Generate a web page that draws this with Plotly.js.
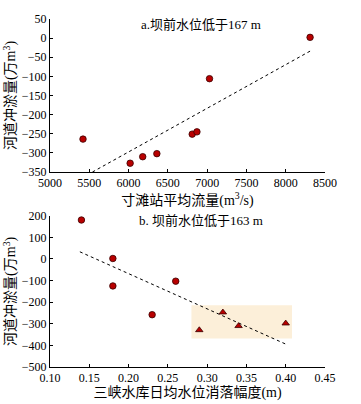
<!DOCTYPE html>
<html><head><meta charset="utf-8">
<script src="https://cdn.plot.ly/plotly-3.0.1.min.js"></script>
<style>html,body{margin:0;padding:0;background:#fff}#c{width:361px;height:404px}</style>
</head><body><div id="c"></div>
<script>
// Panel a
var flowA = [5420, 6020, 6180, 6360, 6810, 6870, 7030, 8310];
var scourA = [-264, -327, -310, -302, -251, -245, -106, 2];
var trendAx = [5540, 8310];
var trendAy = [-350, -34];
// Panel b
var dropCircle = [0.14, 0.18, 0.18, 0.26, 0.23];
var scourCircle = [180, 2, -125, -103, -258];
var dropTri = [0.29, 0.32, 0.34, 0.40];
var scourTri = [-329, -247, -310, -298];
var trendBx = [0.138, 0.40];
var trendBy = [33, -394];
var boxBx = [0.28, 0.408];
var boxBy = [-368, -214];

var FONT = "'Liberation Serif', 'Noto Sans CJK SC', serif";
var red = '#B80000';
var mk = {color: red, size: 6.5, line: {color: '#3a0000', width: 0.8}};
var mkT = {color: red, size: 6.5, symbol: 'triangle-up', line: {color: '#3a0000', width: 0.8}};

var data = [
  {x: trendAx, y: trendAy, mode: 'lines', line: {color: '#000', width: 1, dash: 'dot'}, xaxis: 'x', yaxis: 'y', hoverinfo: 'skip'},
  {x: flowA, y: scourA, mode: 'markers', marker: mk, xaxis: 'x', yaxis: 'y'},
  {x: trendBx, y: trendBy, mode: 'lines', line: {color: '#000', width: 1, dash: 'dot'}, xaxis: 'x2', yaxis: 'y2', hoverinfo: 'skip'},
  {x: dropCircle, y: scourCircle, mode: 'markers', marker: mk, xaxis: 'x2', yaxis: 'y2'},
  {x: dropTri, y: scourTri, mode: 'markers', marker: mkT, xaxis: 'x2', yaxis: 'y2'}
];

function ax(o) {
  return Object.assign({
    showline: true, linecolor: '#000', linewidth: 1, mirror: false,
    ticks: 'inside', ticklen: 3, tickcolor: '#000', showgrid: false, zeroline: false,
    tickfont: {family: FONT, size: 12, color: '#000'}
  }, o);
}

var layout = {
  width: 361, height: 404,
  margin: {l: 50, r: 36, t: 19, b: 37},
  paper_bgcolor: '#fff', plot_bgcolor: 'rgba(0,0,0,0)',
  showlegend: false,
  font: {family: FONT, color: '#000'},
  xaxis: ax({domain: [0, 1], range: [5000, 8500], dtick: 500, anchor: 'y',
    title: {text: '寸滩站平均流量(m<sup>3</sup>/s)', font: {family: FONT, size: 14}, standoff: 0}}),
  yaxis: ax({domain: [0.5603, 1], range: [-350, 50], dtick: 50, anchor: 'x',
    title: {text: '河道冲淤量(万m<sup>3</sup>)', font: {family: FONT, size: 14}, standoff: 2}}),
  xaxis2: ax({domain: [0, 1], range: [0.10, 0.45], dtick: 0.05, tickformat: '.2f', anchor: 'y2',
    title: {text: '三峡水库日均水位消落幅度(m)', font: {family: FONT, size: 14}, standoff: 0}}),
  yaxis2: ax({domain: [0, 0.4348], range: [-500, 200], dtick: 100, anchor: 'x2',
    title: {text: '河道冲淤量(万m<sup>3</sup>)', font: {family: FONT, size: 14}, standoff: 2}}),
  shapes: [{type: 'rect', xref: 'x2', yref: 'y2', x0: boxBx[0], x1: boxBx[1], y0: boxBy[0], y1: boxBy[1],
    fillcolor: '#FCEFD9', line: {width: 0}, layer: 'below'}],
  annotations: [
    {text: 'a.坝前水位低于167 m', xref: 'paper', yref: 'paper', x: 0.55, y: 1, yshift: -5, yanchor: 'middle', showarrow: false, font: {family: FONT, size: 13}},
    {text: 'b. 坝前水位低于163 m', xref: 'paper', yref: 'paper', x: 0.55, y: 0.4348, yshift: -5, yanchor: 'middle', showarrow: false, font: {family: FONT, size: 13}}
  ]
};
Plotly.newPlot('c', data, layout, {displayModeBar: false, staticPlot: true});
</script></body></html>
